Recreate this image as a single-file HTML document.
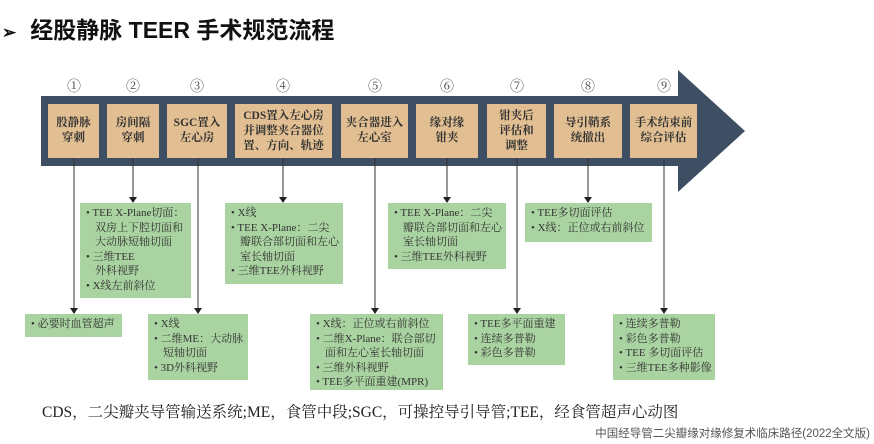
<!DOCTYPE html>
<html><head><meta charset="utf-8"><style>
body{margin:0;width:874px;height:444px;background:#fff;position:relative;overflow:hidden;font-family:"Liberation Serif","Noto Serif CJK SC",serif;color:#2a2a2a}
.a{position:absolute}
.t{background:#e2bf92;font-size:11.5px;font-weight:bold;line-height:15px;text-align:center;display:flex;align-items:center;justify-content:center;color:#333}
.g{background:#a9d3a0;font-size:11px;line-height:14.5px;padding:3px 3px 2px 6px;box-sizing:border-box;color:#333}
.g div{padding-left:9px;text-indent:-9px}
.n{font-size:14px;width:24px;text-align:center;top:76px;color:#444}
</style></head><body>
<div class="a" style="left:0;top:11px;font-family:'Liberation Sans','Noto Sans CJK SC',sans-serif;font-weight:bold;font-size:23px;color:#111;white-space:nowrap"><span style="font-size:17px;margin-left:2px;margin-right:14px">➢</span>经股静脉 TEER 手术规范流程</div>
<svg class="a" style="left:0;top:0" width="874" height="444">
<polygon points="41,96 678,96 678,70 745,131 678,192 678,166 41,166" fill="#3e4f63"/>
<g stroke="#333" stroke-width="1">
<line x1="74" y1="158" x2="74" y2="309"/><line x1="133" y1="158" x2="133" y2="198"/>
<line x1="198" y1="158" x2="198" y2="309"/><line x1="283" y1="158" x2="283" y2="198"/>
<line x1="375" y1="158" x2="375" y2="309"/><line x1="447" y1="158" x2="447" y2="198"/>
<line x1="517" y1="158" x2="517" y2="309"/><line x1="588" y1="158" x2="588" y2="198"/>
<line x1="664" y1="158" x2="664" y2="309"/>
</g>
<g fill="#222">
<polygon points="70,308 78,308 74,314"/><polygon points="129,197 137,197 133,203"/>
<polygon points="194,308 202,308 198,314"/><polygon points="279,197 287,197 283,203"/>
<polygon points="371,308 379,308 375,314"/><polygon points="443,197 451,197 447,203"/>
<polygon points="513,308 521,308 517,314"/><polygon points="584,197 592,197 588,203"/>
<polygon points="660,308 668,308 664,314"/>
</g>
</svg>
<div class="a n" style="left:62px">①</div><div class="a n" style="left:121px">②</div><div class="a n" style="left:185px">③</div><div class="a n" style="left:271px">④</div><div class="a n" style="left:363px">⑤</div><div class="a n" style="left:435px">⑥</div><div class="a n" style="left:505px">⑦</div><div class="a n" style="left:576px">⑧</div><div class="a n" style="left:652px">⑨</div>
<div class="a t" style="left:48px;top:104px;width:51px;height:54px">股静脉<br>穿刺</div>
<div class="a t" style="left:107px;top:104px;width:52px;height:54px">房间隔<br>穿刺</div>
<div class="a t" style="left:167px;top:104px;width:60px;height:54px">SGC置入<br>左心房</div>
<div class="a t" style="left:235px;top:104px;width:97px;height:54px">CDS置入左心房<br>并调整夹合器位<br>置、方向、轨迹</div>
<div class="a t" style="left:341px;top:104px;width:67px;height:54px">夹合器进入<br>左心室</div>
<div class="a t" style="left:416px;top:104px;width:62px;height:54px">缘对缘<br>钳夹</div>
<div class="a t" style="left:487px;top:104px;width:59px;height:54px">钳夹后<br>评估和<br>调整</div>
<div class="a t" style="left:554px;top:104px;width:68px;height:54px">导引鞘系<br>统撤出</div>
<div class="a t" style="left:630px;top:104px;width:67px;height:54px">手术结束前<br>综合评估</div>
<div class="a g" style="left:80px;top:203px;width:111px;height:95px"><div>• TEE X-Plane切面：<br>双房上下腔切面和<br>大动脉短轴切面</div><div>• 三维TEE<br>外科视野</div><div>• X线左前斜位</div></div>
<div class="a g" style="left:225px;top:203px;width:118px;height:81px"><div>• X线</div><div>• TEE X-Plane：二尖<br>瓣联合部切面和左心<br>室长轴切面</div><div>• 三维TEE外科视野</div></div>
<div class="a g" style="left:388px;top:203px;width:118px;height:66px"><div>• TEE X-Plane：二尖<br>瓣联合部切面和左心<br>室长轴切面</div><div>• 三维TEE外科视野</div></div>
<div class="a g" style="left:525px;top:203px;width:127px;height:39px"><div>• TEE多切面评估</div><div>• X线：正位或右前斜位</div></div>
<div class="a g" style="left:25px;top:314px;width:97px;height:23px"><div>• 必要时血管超声</div></div>
<div class="a g" style="left:148px;top:314px;width:100px;height:66px"><div>• X线</div><div>• 二维ME：大动脉<br>短轴切面</div><div>• 3D外科视野</div></div>
<div class="a g" style="left:310px;top:314px;width:133px;height:76px"><div>• X线：正位或右前斜位</div><div>• 二维X-Plane：联合部切<br>面和左心室长轴切面</div><div>• 三维外科视野</div><div>• TEE多平面重建(MPR)</div></div>
<div class="a g" style="left:468px;top:314px;width:97px;height:51px"><div>• TEE多平面重建</div><div>• 连续多普勒</div><div>• 彩色多普勒</div></div>
<div class="a g" style="left:613px;top:314px;width:102px;height:66px"><div>• 连续多普勒</div><div>• 彩色多普勒</div><div>• TEE 多切面评估</div><div>• 三维TEE多种影像</div></div>
<div class="a" style="left:42px;top:400px;font-size:15.5px;white-space:nowrap;color:#222">CDS，二尖瓣夹导管输送系统;ME，食管中段;SGC，可操控导引导管;TEE，经食管超声心动图</div>
<div class="a" style="right:4px;top:425px;font-size:11.5px;white-space:nowrap;color:#555;font-family:'Liberation Sans','Noto Sans CJK SC',sans-serif">中国经导管二尖瓣缘对缘修复术临床路径(2022全文版)</div>
</body></html>
